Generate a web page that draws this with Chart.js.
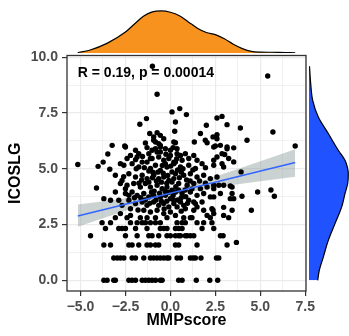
<!DOCTYPE html>
<html>
<head>
<meta charset="utf-8">
<script src="https://cdn.jsdelivr.net/npm/chart.js@4.4.1/dist/chart.umd.min.js"></script>
<style>
  html, body { margin: 0; padding: 0; background: #fff; }
  #wrap { position: relative; width: 349px; height: 336px; }
  #wrap canvas { position: absolute; left: 0; top: 0; }
</style>
</head>
<body>
<div id="wrap">
  <canvas id="main" width="349" height="336"></canvas>
  <canvas id="topDens" width="349" height="336"></canvas>
  <canvas id="rightDens" width="349" height="336"></canvas>
</div>
<script>
// axis ticks
const xMajor = [-5, -2.5, 0, 2.5, 5, 7.5];
const xLabels = ['\u22125.0', '\u22122.5', '0.0', '2.5', '5.0', '7.5'];
const xGrid = [-5, -3.75, -2.5, -1.25, 0, 1.25, 2.5, 3.75, 5, 6.25, 7.5];
const yMajor = [0, 2.5, 5, 7.5, 10];
const yLabels = ['0.0', '2.5', '5.0', '7.5', '10.0'];
const yGrid = [0, 1.25, 2.5, 3.75, 5, 6.25, 7.5, 8.75, 10];

// low ICOSLG values sit on discrete levels, one row of MMPscore values each
const lowLevels = [0, 1, 1.585, 2, 2.32, 2.585, 2.81];
const lowRowsX = [
  [-3.7, -3.52, -3.15, -3.06, -2.31, -2.13, -1.94, -1.57, -1.39, -1.2, -1.02, -0.83, -0.56, -0.46, 0.46, 0.65, 1.44, 2.19, 2.63],
  [-3.15, -2.96, -2.78, -2.59, -2.13, -1.94, -1.48, -1.11, -0.93, -0.74, -0.56, -0.37, -0.19, -0.09, 0.37, 0.56, 1.11, 1.26, 1.39, 1.7, 2.56, 2.69],
  [-3.7, -3.33, -2.31, -2.13, -1.76, -1.3, -1.11, -0.83, -0.65, 0.28, 0.46, 1.48, 3.15],
  [-4.44, -2.5, -1.85, -1.2, -1.02, -0.65, -0.19, 0, 0.28, 0.46, 0.56, 0.83, 0.93, 1.11, 1.3, 2.78, 2.93],
  [-3.61, -2.87, -2.69, -2.5, -1.94, -1.3, -0.56, -0.37, -0.19, 0.28, 0.46, 0.65, 1.76, 2.41],
  [-3.8, -3.33, -2.22, -1.85, -1.57, -1.39, -1.11, -0.83, -0.56, 0.37, 0.65, 0.83, 1.48, 1.85, 2.31],
  [-3.06, -2.41, -1.67, -1.3, -0.83, -0.19, 0.74, 1.11, 1.2, 2.22, 3.24]
];

// remaining samples [MMPscore, ICOSLG]
const cloud = [
  [-1.0, 9.6], [5.41, 9.16], [-0.74, 8.34],
  [0.09, 7.55], [0.52, 7.7], [0.89, 7.43], [0.28, 7.1], [-1.33, 7.25], [-1.7, 7.0],
  [2.59, 7.28], [2.87, 7.35], [2.0, 6.95], [3.15, 6.98], [3.89, 6.83],
  [-1.15, 6.58], [-0.74, 6.62], [0.24, 6.68], [1.67, 6.58], [2.37, 6.43], [2.59, 6.53], [5.7, 6.65],
  [4.26, 6.28], [1.33, 6.2], [2.04, 6.17], [2.5, 6.02], [2.78, 6.05], [3.15, 5.98], [3.52, 5.94], [6.94, 6.02],
  [1.94, 6.28], [2.59, 6.35], [0.28, 6.17], [-0.93, 6.28], [-1.39, 6.16], [-0.56, 6.05], [0.19, 6.2],
  [-3.24, 6.05], [-2.54, 6.02], [-3.48, 5.66], [-5.15, 5.19], [-4.02, 5.11], [-3.74, 5.3], [-3.37, 4.98],
  [-2.59, 5.16], [-2.41, 5.46], [-1.94, 5.41], [-1.76, 5.68], [-0.83, 5.9], [-0.56, 5.75], [0, 5.83], [-1.11, 5.46],
  [-0.93, 6.43], [-0.56, 6.5], [-0.37, 6.35], [-0.83, 6.2], [-0.65, 6.13], [-0.56, 5.98], [-0.28, 5.9], [-1.02, 5.83], [-0.74, 5.75],
  [-2.5, 5.98], [-1.94, 5.83], [-2.22, 5.6], [-1.85, 5.53], [-1.57, 5.3], [-1.2, 5.68], [-1.02, 5.46], [-0.65, 5.53],
  [-0.37, 5.38], [-0.09, 5.46], [0.19, 5.3], [-0.28, 5.23], [-2.78, 5.23],
  [0.37, 5.9], [0, 5.6], [0.37, 5.68], [0.83, 5.68], [1.3, 5.6], [1.02, 5.46], [0.65, 5.38], [0.28, 5.3], [1.48, 5.38],
  [2.59, 5.53], [2.87, 5.68], [2.41, 5.38], [3.24, 5.46], [2.87, 5.23], [2.41, 5.98], [3.15, 5.9],
  [0.56, 5.6], [3.02, 5.64], [3.52, 5.31], [2.41, 5.16], [2.96, 5.08], [3.93, 4.86],
  [-2.13, 5.23], [-1.76, 5.08], [-1.3, 5.3], [-1.11, 5.01], [-0.83, 5.16], [-0.56, 4.93], [-0.19, 5.08], [0.09, 4.86],
  [-3.06, 4.71], [-2.31, 4.78], [-1.94, 4.63], [-1.57, 4.71], [-1.3, 4.56], [-0.93, 4.71], [-0.65, 4.56], [-0.37, 4.63], [-0.09, 4.48], [0.19, 4.56],
  [-2.78, 4.34], [-2.41, 4.26], [-2.04, 4.34], [-1.67, 4.18], [-1.39, 4.34], [-1.11, 4.18], [-0.74, 4.26], [-0.46, 4.11], [-0.19, 4.18], [0.09, 4.04],
  [-3.06, 3.96], [-2.5, 3.89], [-2.13, 3.96], [-1.85, 3.81], [-1.48, 3.89], [-1.2, 3.74], [-0.93, 3.81], [-0.56, 3.74], [-0.28, 3.81], [0, 3.66],
  [-2.31, 3.59], [-1.94, 3.44], [-1.57, 3.51], [-1.3, 3.36], [-0.93, 3.51], [-0.65, 3.36], [-0.37, 3.44], [-0.09, 3.29], [0.19, 3.44],
  [-1.48, 3.14], [-1.11, 3.06], [-0.74, 3.14], [-0.37, 2.99], [0, 3.06], [-2.22, 2.91], [-2.78, 2.99],
  [0.19, 5.23], [0.56, 5.08], [1.02, 5.16], [1.39, 5.01], [1.76, 5.23],
  [0.28, 4.78], [0.74, 4.71], [1.11, 4.78], [1.48, 4.63], [1.85, 4.71], [2.22, 4.56], [2.59, 4.63],
  [0.09, 4.41], [0.46, 4.34], [0.93, 4.26], [1.3, 4.34], [1.67, 4.11], [2.04, 4.18], [2.41, 4.26], [2.96, 4.26], [3.43, 4.18],
  [0.28, 3.96], [0.65, 3.89], [1.11, 3.96], [1.48, 3.81], [1.85, 3.89], [2.22, 3.74],
  [0.19, 3.59], [0.56, 3.51], [1.02, 3.59], [1.39, 3.44], [1.76, 3.51],
  [0.37, 3.29], [0.83, 3.21], [1.3, 3.14], [1.85, 3.14], [2.31, 3.21],
  [0.28, 2.91], [2.41, 2.99], [2.96, 2.91], [3.43, 3.14],
  [3.33, 4.23], [3.43, 3.89], [3.33, 3.66], [3.52, 3.66], [3.98, 3.77], [4.85, 3.96], [5.59, 4.05], [5.78, 3.77], [4.5, 3.14],
  [2.96, 3.27], [2.37, 3.14], [2.41, 4.11], [2.69, 4.26], [2.78, 3.89], [2.41, 3.74], [1.3, 3.51], [0.74, 3.36], [1.48, 3.29], [2.04, 2.91],
  [3.67, 1.7],
  [-4.11, 4.14], [-3.7, 3.66], [-3.33, 3.59], [-2.69, 4.48], [-2.5, 4.11], [-2.31, 3.81], [-2.87, 3.59], [-2.69, 3.36], [-2.22, 3.21],
  [-1.2, 4.9], [-0.7, 4.85], [-0.4, 4.8], [0.4, 4.95], [0.7, 5.0], [-0.2, 4.35], [0.3, 4.2], [-0.9, 4.0], [0.5, 4.6],
  [-0.5, 4.4], [-1.6, 4.5], [0.9, 4.5], [-1.4, 3.6], [0.6, 3.7], [-0.1, 3.95], [-0.8, 3.6], [1.2, 4.1], [-1.0, 4.6],
  // solid core of the cloud
  [-1.45, 5.05], [-0.98, 4.85], [-0.45, 5.15], [0.02, 5.12], [0.35, 5.45], [-0.15, 4.7], [-0.78, 4.45], [-1.2, 4.4],
  [-1.75, 4.35], [-0.3, 4.0], [0.15, 3.8], [-0.6, 3.9], [-1.05, 3.95], [-1.65, 3.7], [0.45, 4.05], [0.82, 4.05],
  [-0.2, 3.55], [-0.5, 3.55], [-1.15, 3.45], [0.4, 3.6], [0.85, 3.75], [1.1, 4.45], [1.62, 4.45], [1.95, 4.35],
  [0.6, 4.85], [-1.9, 5.0], [-1.55, 5.55], [-0.25, 5.65], [0.15, 5.95], [-1.3, 5.95], [1.25, 4.95], [1.95, 5.05],
  [0.95, 3.45], [-2.0, 3.7], [-2.6, 4.65], [-0.35, 3.2], [0.6, 3.1], [-1.8, 3.15]
];

// linear fit and its confidence band
const fitX = [-5.15, 6.94];
const fitY = [2.88, 5.28];
const bandX = [-5.15, -2.5, 0, 2.5, 5, 6.94];
const bandLow = [2.40, 3.12, 3.76, 4.15, 4.44, 4.64];
const bandHigh = [3.40, 3.68, 4.04, 4.65, 5.34, 5.88];

// marginal densities
const topDensX = [-5.15, -4.5, -3.5, -2.5, -2.0, -1.5, -1.0, -0.5, 0, 0.5, 1.0, 1.5, 2.0, 2.5, 3.0, 3.5, 4.0, 4.5, 5.0, 6.0, 6.94];
const topDens = [0.002, 0.012, 0.043, 0.091, 0.126, 0.160, 0.179, 0.183, 0.177, 0.162, 0.135, 0.108, 0.089, 0.080, 0.062, 0.038, 0.019, 0.007, 0.004, 0.003, 0.001];
const rightDensY = [0, 0.45, 1.04, 1.79, 2.54, 3.29, 3.89, 4.34, 4.78, 5.08, 5.38, 5.83, 6.58, 7.32, 8.07, 8.82, 9.6];
const rightDens = [0.0435, 0.0515, 0.0715, 0.0965, 0.13, 0.1635, 0.18, 0.1935, 0.1965, 0.1915, 0.18, 0.1465, 0.0965, 0.0465, 0.0185, 0.0085, 0.0025];

const corText = 'R = 0.19, p = 0.00014';

const FONT = '"Liberation Sans", Arial, sans-serif';
const xRange = [-5.75, 7.54];
const yRange = [-0.48, 10.08];

const samplePoints = [];
lowLevels.forEach((lv, i) => lowRowsX[i].forEach(x => samplePoints.push({ x: x, y: lv })));
cloud.forEach(p => samplePoints.push({ x: p[0], y: p[1] }));

const fitLine = fitX.map((x, i) => ({ x: x, y: fitY[i] }));
const ciLow = bandX.map((x, i) => ({ x: x, y: bandLow[i] }));
const ciHigh = bandX.map((x, i) => ({ x: x, y: bandHigh[i] }));

function isMajor(v, majors) {
    return majors.some(m => Math.abs(m - v) < 1e-6);
}

function labelFor(v, majors, labels) {
    const i = majors.findIndex(m => Math.abs(m - v) < 1e-6);
    return i >= 0 ? labels[i] : '';
}

function axisOptions(range, grid, majors, labels, title) {
    return {
        type: 'linear',
        min: range[0],
        max: range[1],
        afterBuildTicks: s => { s.ticks = grid.map(v => ({ value: v })); },
        ticks: {
            autoSkip: false,
            maxRotation: 0,
            callback: v => labelFor(v, majors, labels),
            font: { family: FONT, size: 14, weight: 'bold' },
            color: '#4D4D4D',
            padding: 3
        },
        grid: {
            color: '#EBEBEB',
            lineWidth: ctx => isMajor(ctx.tick.value, majors) ? 1.2 : 0.7,
            tickLength: 5,
            tickWidth: 1.2,
            tickColor: ctx => isMajor(ctx.tick.value, majors) ? '#333333' : 'rgba(0,0,0,0)'
        },
        border: { display: false },
        title: {
            display: true,
            text: title,
            color: '#000',
            font: { family: FONT, size: 16, weight: 'bold' },
            padding: { top: 0, bottom: 4 }
        }
    };
}

const panelFrame = {
    id: 'panelFrame',
    afterDraw(chart) {
        const a = chart.chartArea;
        const ctx = chart.ctx;
        ctx.save();
        ctx.strokeStyle = '#333333';
        ctx.lineWidth = 1.3;
        ctx.strokeRect(a.left, a.top, a.right - a.left, a.bottom - a.top);
        ctx.restore();
    }
};

const corLabel = {
    id: 'corLabel',
    afterDatasetsDraw(chart) {
        const ctx = chart.ctx;
        const { x, y } = chart.scales;
        ctx.save();
        ctx.font = 'bold 14px ' + FONT;
        ctx.fillStyle = '#000';
        ctx.textBaseline = 'alphabetic';
        ctx.fillText(corText, x.getPixelForValue(-5.15), y.getPixelForValue(9.13));
        ctx.restore();
    }
};

const xAxis = axisOptions(xRange, xGrid, xMajor, xLabels, 'MMPscore');
xAxis.afterFit = s => { s.height = 43; };
const yAxis = axisOptions(yRange, yGrid, yMajor, yLabels, 'ICOSLG');
yAxis.afterFit = s => { s.width = 61; };
yAxis.ticks.padding = 4;

new Chart(document.getElementById('main'), {
    type: 'scatter',
    data: {
        datasets: [
            { label: 'fit', data: fitLine, showLine: true, borderColor: '#3366FF', borderWidth: 1.6, pointRadius: 0, order: 0 },
            { label: 'samples', data: samplePoints, pointRadius: 2.7, pointBackgroundColor: '#000', pointBorderWidth: 0, order: 1 },
            { label: 'ciHigh', data: ciHigh, showLine: true, borderWidth: 0, pointRadius: 0, cubicInterpolationMode: 'monotone',
              fill: 3, backgroundColor: 'rgba(140,158,156,0.45)', order: 2 },
            { label: 'ciLow', data: ciLow, showLine: true, borderWidth: 0, pointRadius: 0, cubicInterpolationMode: 'monotone', order: 3 }
        ]
    },
    options: {
        responsive: false,
        animation: false,
        events: [],
        layout: { padding: { left: 6, right: 43, top: 55.5, bottom: 2 } },
        plugins: { legend: { display: false }, tooltip: { enabled: false } },
        scales: { x: xAxis, y: yAxis }
    },
    plugins: [panelFrame, corLabel]
});

// top marginal density of MMPscore
new Chart(document.getElementById('topDens'), {
    type: 'line',
    data: {
        datasets: [{
            data: topDensX.map((x, i) => ({ x: x, y: topDens[i] })),
            borderColor: '#000',
            borderWidth: 1.2,
            backgroundColor: '#F8921E',
            fill: 'origin',
            pointRadius: 0,
            cubicInterpolationMode: 'monotone'
        }]
    },
    options: {
        responsive: false,
        animation: false,
        events: [],
        layout: { padding: { left: 67, right: 43, top: 0, bottom: 283 } },
        plugins: { legend: { display: false }, tooltip: { enabled: false } },
        scales: {
            x: { type: 'linear', min: xRange[0], max: xRange[1], display: false },
            y: { type: 'linear', min: 0, max: 0.2304, display: false }
        }
    }
});

// right marginal density of ICOSLG
new Chart(document.getElementById('rightDens'), {
    type: 'line',
    data: {
        datasets: [{
            data: rightDensY.map((y, i) => ({ x: rightDens[i], y: y })),
            borderColor: '#000',
            borderWidth: 1.2,
            backgroundColor: '#2152FF',
            fill: 'origin',
            pointRadius: 0,
            cubicInterpolationMode: 'monotone'
        }]
    },
    options: {
        indexAxis: 'y',
        responsive: false,
        animation: false,
        events: [],
        layout: { padding: { left: 309, right: 0, top: 55.5, bottom: 45 } },
        plugins: { legend: { display: false }, tooltip: { enabled: false } },
        scales: {
            x: { type: 'linear', min: 0, max: 0.2, display: false },
            y: { type: 'linear', min: yRange[0], max: yRange[1], display: false }
        }
    }
});
</script>
</body>
</html>
